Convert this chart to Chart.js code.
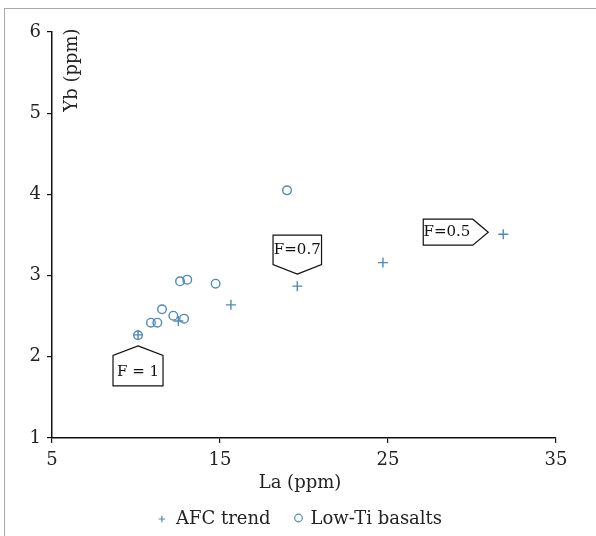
<!DOCTYPE html>
<html><head><meta charset="utf-8">
<script src="https://cdn.jsdelivr.net/npm/chart.js@4/dist/chart.umd.min.js"></script>
<style>
html,body{margin:0;padding:0;background:#fff;}
#wrap{position:absolute;left:0;top:0;width:596px;height:536px;}
#frame{position:absolute;left:4px;top:8px;width:600px;height:540px;border:1px solid #aaa;box-sizing:border-box;}
canvas{position:absolute;left:0;top:0;}
</style></head>
<body>
<div id="wrap"><div id="frame"></div><canvas id="c" width="596" height="536"></canvas></div>
<script>
// Data
const afcLa = [10.12, 12.52, 15.65, 19.6, 24.7, 31.86];
const afcYb = [2.27, 2.44, 2.64, 2.87, 3.16, 3.51];
const lowTiLa = [10.12, 10.89, 11.27, 11.55, 12.22, 12.86, 12.62, 13.05, 14.74, 18.99];
const lowTiYb = [2.265, 2.42, 2.42, 2.585, 2.506, 2.47, 2.93, 2.95, 2.90, 4.05];
const xTicks = [5, 15, 25, 35];
const yTicks = [1, 2, 3, 4, 5, 6];
const seriesNames = ['AFC trend', 'Low-Ti basalts'];
const axisTitles = ['La (ppm)', 'Yb (ppm)'];
const fLabels = ['F = 1', 'F=0.7', 'F=0.5'];
const fAnchorIdx = [0, 3, 5]; // AFC point each label refers to

const COL = '#4f8bb8';
const FONT = "'DejaVu Serif', 'Liberation Serif', serif";

const annotPlugin = {
  id: 'annot',
  afterDatasetsDraw(chart) {
    const ctx = chart.ctx, xs = chart.scales.x, ys = chart.scales.y, ca = chart.chartArea;
    ctx.save();
    ctx.strokeStyle = '#111'; ctx.lineWidth = 1.2; ctx.fillStyle = '#fff';
    ctx.font = '15px ' + FONT; ctx.textAlign = 'center'; ctx.textBaseline = 'middle';
    const dirs = ['up', 'down', 'right'];
    fLabels.forEach((t, i) => {
      const k = fAnchorIdx[i];
      const px = xs.getPixelForValue(afcLa[k]), py = ys.getPixelForValue(afcYb[k]);
      ctx.beginPath();
      let tx, ty;
      if (dirs[i] === 'up') {
        const ax = px, ay = py + 11, w = 50, sh = 9.5, h = 40;
        ctx.moveTo(ax, ay); ctx.lineTo(ax + w/2, ay + sh); ctx.lineTo(ax + w/2, ay + h);
        ctx.lineTo(ax - w/2, ay + h); ctx.lineTo(ax - w/2, ay + sh); ctx.closePath();
        tx = ax; ty = ay + (sh + h)/2 + 1;
      } else if (dirs[i] === 'down') {
        const ax = px, ay = py - 12, w = 48.5, sh = 9.5, h = 39;
        ctx.moveTo(ax, ay); ctx.lineTo(ax + w/2, ay - sh); ctx.lineTo(ax + w/2, ay - h);
        ctx.lineTo(ax - w/2, ay - h); ctx.lineTo(ax - w/2, ay - sh); ctx.closePath();
        tx = ax; ty = ay - (sh + h)/2;
      } else {
        const ax = px - 15, ay = py - 2, w = 65, sh = 15.5, h = 26;
        ctx.moveTo(ax, ay); ctx.lineTo(ax - sh, ay - h/2); ctx.lineTo(ax - w, ay - h/2);
        ctx.lineTo(ax - w, ay + h/2); ctx.lineTo(ax - sh, ay + h/2); ctx.closePath();
        tx = ax - (w + sh)/2 - 1; ty = ay;
      }
      ctx.fill(); ctx.stroke();
      ctx.fillStyle = '#111'; ctx.fillText(t, tx, ty); ctx.fillStyle = '#fff';
    });
    // x-axis title
    ctx.fillStyle = '#222'; ctx.font = '18px ' + FONT;
    ctx.fillText(axisTitles[0], chart.width / 2 + 2, ca.bottom + 45);
    // legend
    const ly = ca.bottom + 81;
    const w1 = ctx.measureText(seriesNames[0]).width, w2 = ctx.measureText(seriesNames[1]).width;
    const total = 4 + 14 + w1 + 28 + 12 + w2;
    const left = chart.width / 2 + 2 - total / 2;
    const m1 = left + 4, t1 = left + 18, m2 = t1 + w1 + 28, t2 = m2 + 12;
    ctx.textAlign = 'left';
    ctx.fillText(seriesNames[0], t1, ly);
    ctx.fillText(seriesNames[1], t2, ly);
    const ds = chart.data.datasets;
    ctx.strokeStyle = ds[0].borderColor; ctx.fillStyle = 'rgba(0,0,0,0)'; ctx.lineWidth = 1.2;
    Chart.helpers.drawPoint(ctx, {pointStyle: ds[0].pointStyle, radius: 3.3, borderWidth: 1.2, rotation: 0}, m1, ly);
    ctx.strokeStyle = ds[1].borderColor;
    Chart.helpers.drawPoint(ctx, {pointStyle: ds[1].pointStyle, radius: 3.8, borderWidth: 1.2, rotation: 0}, m2, ly - 1);
    // y-axis title (inside plot)
    ctx.fillStyle = '#222'; ctx.textAlign = 'center';
    ctx.translate(ca.left + 20, ca.top + 38);
    ctx.rotate(-Math.PI/2);
    ctx.fillText(axisTitles[1], 0, 0);
    ctx.restore();
  }
};

new Chart(document.getElementById('c'), {
  type: 'scatter',
  data: {
    datasets: [
      { label: seriesNames[0], data: afcLa.map((v, i) => ({x: v, y: afcYb[i]})),
        pointStyle: 'cross', pointRadius: 5, borderColor: COL, backgroundColor: COL, borderWidth: 1.4, pointHoverRadius: 5 },
      { label: seriesNames[1], data: lowTiLa.map((v, i) => ({x: v, y: lowTiYb[i]})),
        pointStyle: 'circle', pointRadius: 4.3, borderColor: COL, backgroundColor: 'rgba(0,0,0,0)', borderWidth: 1.4, pointHoverRadius: 4.3 }
    ]
  },
  options: {
    responsive: false, animation: false,
    layout: { padding: { left: 0, top: 32, right: 40, bottom: 0 } },
    plugins: { tooltip: { enabled: false }, legend: { display: false } },
    scales: {
      x: { type: 'linear', min: 5, max: 35,
        afterBuildTicks: s => { s.ticks = xTicks.map(v => ({value: v})); },
        afterFit: s => { s.height = 98; },
        grid: { drawOnChartArea: false, drawTicks: true, tickLength: 5, color: '#111', lineWidth: 1.2 },
        border: { display: true, color: '#111', width: 1.5 },
        ticks: { color: '#222', font: { family: FONT, size: 18 }, padding: 7 }
      },
      y: { type: 'linear', min: 1, max: 6,
        afterBuildTicks: s => { s.ticks = yTicks.map(v => ({value: v})); },
        afterFit: s => { s.width = 52; },
        grid: { drawOnChartArea: false, drawTicks: true, tickLength: 5, color: '#111', lineWidth: 1.2 },
        border: { display: true, color: '#111', width: 1.5 },
        ticks: { color: '#222', font: { family: FONT, size: 18 }, padding: 6 }
      }
    }
  },
  plugins: [annotPlugin]
});
</script>
</body></html>
